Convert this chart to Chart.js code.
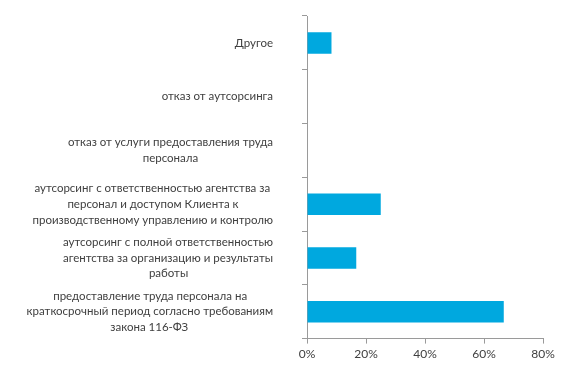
<!DOCTYPE html>
<html>
<head>
<meta charset="utf-8">
<script src="https://cdn.jsdelivr.net/npm/chart.js@4/dist/chart.umd.min.js"></script>
<style>
  html, body { margin: 0; padding: 0; background: #ffffff; }
  #wrap { width: 564px; height: 376px; position: relative; }
</style>
</head>
<body>
<div id="wrap"><canvas id="c"></canvas></div>
<script>
const categories = [
  "Другое",
  "отказ от аутсорсинга",
  ["отказ от услуги предоставления труда", "персонала"],
  ["аутсорсинг с ответственностью агентства за", "персонал и доступом Клиента к", "производственному управлению и контролю"],
  ["аутсорсинг с полной ответственностью", "агентства за организацию и результаты", "работы"],
  ["предоставление труда персонала на", "краткосрочный период согласно требованиям", "закона 116-ФЗ"]
];
const values = [8.3, 0, 0, 25, 16.7, 66.7];
const xMin = 0, xMax = 80, xStep = 20;

const textColor = '#404040';
const axisColor = '#9a9a9a';
const fontFamily = 'Lato, sans-serif';
const fontSize = 11.5;
const font = { family: fontFamily, size: fontSize, lineHeight: 15.8 / fontSize };

// centre the lines of each multi-line label inside its own right-aligned block
const mctx = document.createElement('canvas').getContext('2d');
mctx.font = fontSize + 'px ' + fontFamily;
const SP = '\u2009';
function centredLines(label) {
  if (!Array.isArray(label)) return label;
  const widths = label.map(t => mctx.measureText(t).width);
  const maxW = Math.max(...widths);
  const spW = mctx.measureText(SP).width;
  return label.map((t, i) => t + SP.repeat(Math.round((maxW - widths[i]) / 2 / spW)));
}

new Chart(document.getElementById('c'), {
  type: 'bar',
  data: {
    labels: categories,
    datasets: [{
      data: values,
      backgroundColor: '#00A8DF',
      borderWidth: 0,
      categoryPercentage: 1,
      barPercentage: 0.4
    }]
  },
  options: {
    indexAxis: 'y',
    responsive: true,
    maintainAspectRatio: false,
    animation: false,
    layout: { padding: { top: 16, right: 21, bottom: 12, left: 0 } },
    plugins: { legend: { display: false }, tooltip: { enabled: false } },
    scales: {
      x: {
        min: xMin, max: xMax,
        ticks: { stepSize: xStep, color: textColor, font: { family: fontFamily, size: 12 }, padding: 3,
                 callback: v => v + '%' },
        grid: { display: true, drawOnChartArea: false, drawTicks: true, tickLength: 5, color: axisColor },
        border: { display: true, color: axisColor }
      },
      y: {
        afterFit: s => { s.width = 307; s.paddingTop = 0; s.paddingBottom = 0; },
        ticks: { color: textColor, font: font, padding: 29, crossAlign: 'near', autoSkip: false,
                 callback: function (v, i) { return centredLines(categories[i]); } },
        grid: { display: true, drawOnChartArea: false, drawTicks: true, tickLength: 5, color: axisColor, offset: true },
        border: { display: true, color: axisColor }
      }
    }
  }
});
</script>
</body>
</html>
